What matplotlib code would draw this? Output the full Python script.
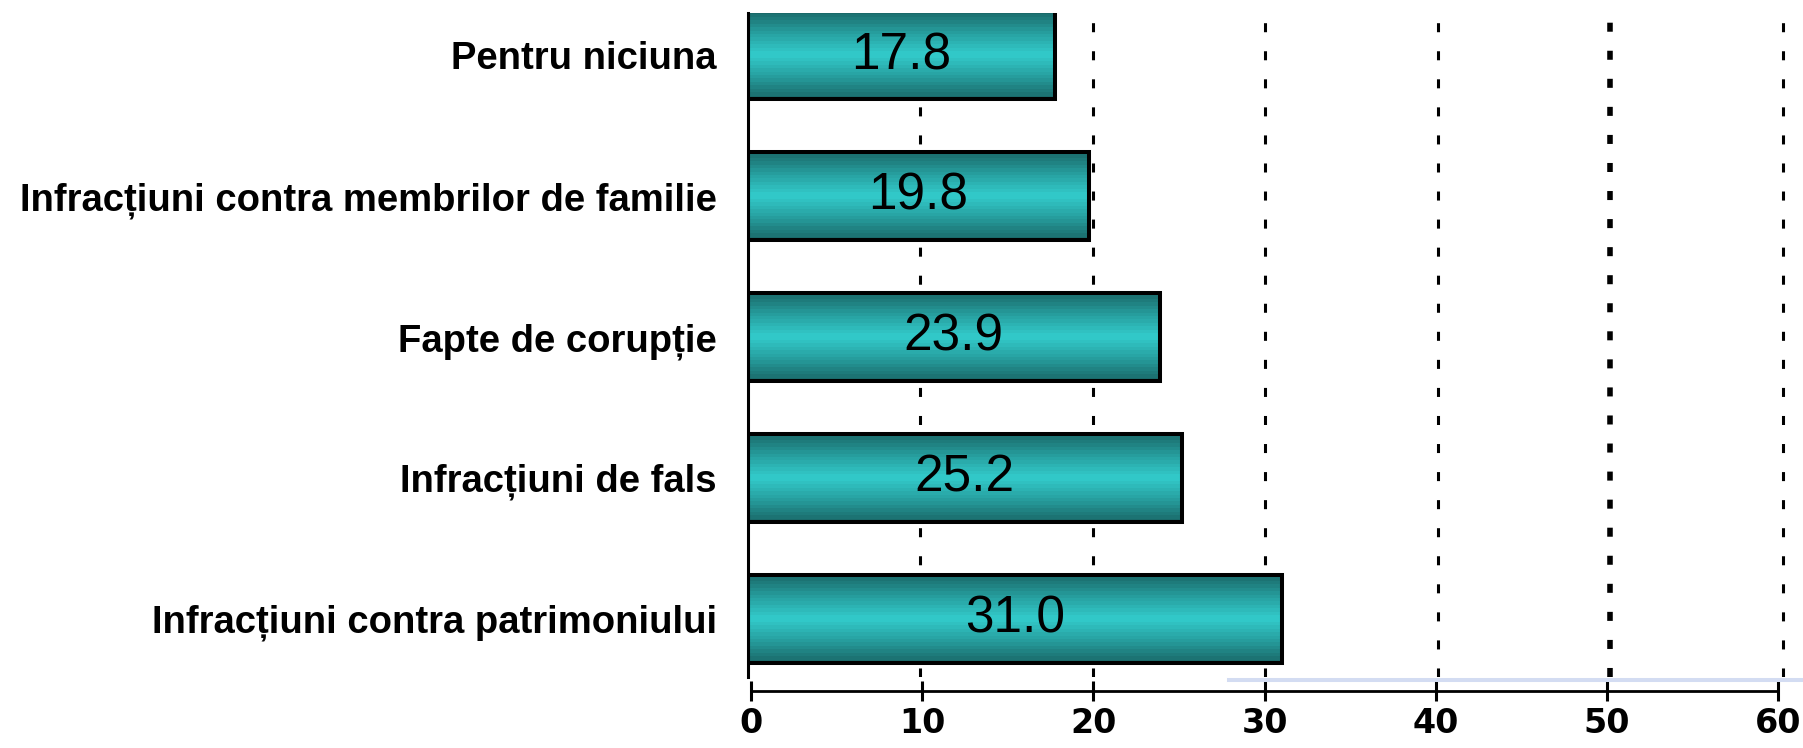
import matplotlib
matplotlib.use("Agg")
import matplotlib.pyplot as plt
import numpy as np
from matplotlib.colors import LinearSegmentedColormap
from matplotlib.lines import Line2D

plt.rcParams["lines.scale_dashes"] = False

# date (de jos in sus)
categories = ["Infracțiuni contra patrimoniului", "Infracțiuni de fals",
              "Fapte de corupție", "Infracțiuni contra membrilor de familie",
              "Pentru niciuna"]
values = [31.0, 25.2, 23.9, 19.8, 17.8]
xticks = [0, 10, 20, 30, 40, 50, 60]

W, H = 1803, 748
fig = plt.figure(figsize=(W / 100, H / 100), dpi=100)

# axa principala cu bare
ax = fig.add_axes([747.5 / W, 1 - 677 / H, (W - 747.5) / W, (677 - 13) / H])
y = np.arange(len(categories))
bars = ax.barh(y, values, height=0.626, color="none", edgecolor="black",
               linewidth=2.9, zorder=3)

cmap = LinearSegmentedColormap.from_list(
    "teal", ["#1b6b6b", "#27a0a0", "#33cccc", "#27a0a0", "#1b6b6b"])
grad = np.linspace(0, 1, 26).reshape(-1, 1)
for b in bars:
    x0, y0, w, h = b.get_x(), b.get_y(), b.get_width(), b.get_height()
    ax.imshow(grad, cmap=cmap, aspect="auto", interpolation="nearest",
              extent=(x0, x0 + w, y0, y0 + h), zorder=2)

ax.bar_label(bars, labels=[f"{v:.1f}" for v in values], label_type="center",
             fontsize=37, family="Liberation Sans", color="black", zorder=4)

for xv in xticks[1:]:
    ax.axvline(xv, color="black", lw=4.0 if xv == 50 else 2.2,
               linestyle=(0, (6.5, 13.7)), zorder=1)

ax.set_xlim(0, (W - 747.5) / 17.25)
ax.set_ylim(-0.413, 4.30)
for s in ["top", "right", "bottom"]:
    ax.spines[s].set_visible(False)
ax.spines["left"].set_linewidth(2.2)
ax.set_xticks([])
ax.set_yticks(y, categories, fontsize=27.5, fontweight="bold",
              family="Liberation Sans")
ax.tick_params(axis="y", length=0, pad=22)

# axa de jos separata
ax2 = fig.add_axes([751 / W, 1 - 691 / H, (1778 - 751) / W, 0.001])
ax2.patch.set_visible(False)
for s in ["top", "right", "left"]:
    ax2.spines[s].set_visible(False)
ax2.spines["bottom"].set_linewidth(2.0)
ax2.set_xlim(0, 60)
ax2.set_yticks([])
ax2.set_xticks(xticks)
ax2.set_xticklabels([str(t) for t in xticks], fontsize=24, fontweight="bold",
                    family="DejaVu Sans")
ax2.tick_params(axis="x", direction="inout", length=13.7, width=2.2, pad=5)

# linia albastra deschisa
fig.add_artist(Line2D([1229 / W, 1], [1 - 680 / H] * 2, color="#d3dcf2", lw=2.9))

fig.savefig("out.png", dpi=100)
